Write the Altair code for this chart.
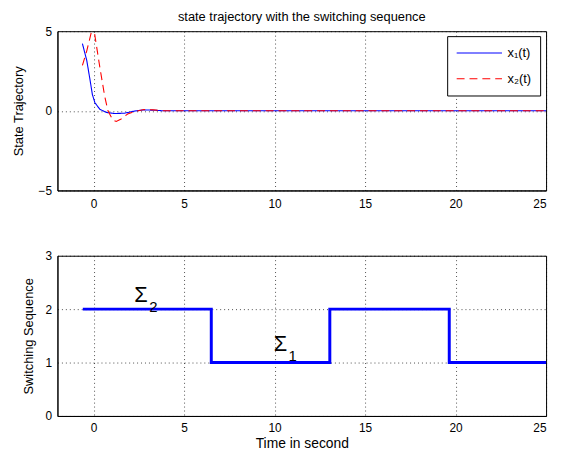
import altair as alt
import pandas as pd

FONT = "Liberation Sans"

# state trajectories
t1 = [-0.62, -0.38, -0.2, -0.07, 0.07, 0.34, 0.7, 1.15, 1.7, 2.24, 2.78, 3.32, 3.87, 5.0, 25.0]
x1 = [4.22, 3.16, 1.94, 1.02, 0.51, 0.1, -0.1, -0.17, -0.15, -0.02, 0.06, 0.04, 0.0, 0.0, 0.0]
t2 = [-0.62, -0.38, -0.2, -0.03, 0.03, 0.34, 0.61, 0.79, 1.06, 1.25, 1.52, 1.88, 2.24, 2.78, 3.32, 3.87, 5.0, 25.0]
x2 = [2.85, 3.77, 4.59, 5.4, 5.0, 2.75, 0.92, 0.0, -0.57, -0.67, -0.51, -0.2, -0.06, 0.08, 0.06, 0.0, 0.0, 0.0]

# switching sequence
sw_t = [-0.6, 6.5, 13.05, 19.65, 25.0]
sw_v = [2, 1, 2, 1, 1]

# annotations
ann_t = [2.25, 9.95]
ann_v = [2.14, 1.22]
ann_lab = ["Σ", "Σ"]
ann_sub = ["2", "1"]

names = ["x₁(t)", "x₂(t)"]
xticks = [0, 5, 10, 15, 20, 25]

df_state = pd.concat([
    pd.DataFrame({"t": t1, "v": x1, "s": names[0]}),
    pd.DataFrame({"t": t2, "v": x2, "s": names[1]}),
])
df_sw = pd.DataFrame({"t": sw_t, "v": sw_v})
df_ann = pd.DataFrame({"t": ann_t, "v": ann_v, "lab": ann_lab, "sub": ann_sub})

W = 494
xscale = alt.Scale(domain=[-2, 25], nice=False, zero=False)
GRID = dict(grid=True, gridDash=[1, 3], gridColor="black", gridOpacity=0.7)

def xaxis(title=None):
    kw = dict(values=xticks, tickSize=0, labelFontSize=12, labelFlush=True, **GRID)
    if title:
        return alt.Axis(title=title, labelPadding=7, titlePadding=3, titleFontSize=14, **kw)
    return alt.Axis(title=None, labelPadding=8, **kw)

def yaxis(title, vals, tp):
    return alt.Axis(values=vals, title=title, tickSize=0, labelPadding=6,
                    labelFontSize=12, titlePadding=tp, format="d", **GRID)

top = alt.Chart(df_state).mark_line(strokeWidth=1.1, clip=True).encode(
    x=alt.X("t:Q", scale=xscale, axis=xaxis()),
    y=alt.Y("v:Q", scale=alt.Scale(domain=[-5, 5], nice=False),
            axis=yaxis("State Trajectory", [-5, 0, 5], 13)),
    color=alt.Color("s:N", scale=alt.Scale(domain=names, range=["#0000ff", "#ff0000"]),
                    legend=alt.Legend(title=None, orient="none", legendX=394, legendY=5,
                                      strokeColor="black", fillColor="white", padding=9,
                                      rowPadding=10, symbolType="stroke", symbolSize=2100,
                                      clipHeight=16, symbolStrokeWidth=1.1, labelFontSize=13,
                                      labelFont=FONT, labelOffset=5, cornerRadius=0)),
    strokeDash=alt.StrokeDash("s:N", scale=alt.Scale(domain=names, range=[[1, 0], [8, 5]]),
                              legend=alt.Legend(title=None)),
).properties(width=W, height=161,
             title=alt.TitleParams("state trajectory with the switching sequence",
                                   fontSize=13, fontWeight="normal", font=FONT, offset=1))

bot_line = alt.Chart(df_sw).mark_line(interpolate="step-after", strokeWidth=3, color="#0000ff").encode(
    x=alt.X("t:Q", scale=xscale, axis=xaxis("Time in second")),
    y=alt.Y("v:Q", scale=alt.Scale(domain=[0, 3], nice=False),
            axis=yaxis("Switching Sequence", [0, 1, 2, 3], 10)),
)
bot_sigma = alt.Chart(df_ann).mark_text(fontSize=22, font=FONT, align="left",
                                        baseline="alphabetic", color="black").encode(
    x="t:Q", y="v:Q", text="lab:N")
bot_sub = alt.Chart(df_ann).mark_text(fontSize=15, font=FONT, align="left",
                                      baseline="alphabetic", color="black", dx=15, dy=10).encode(
    x="t:Q", y="v:Q", text="sub:N")
bot = alt.layer(bot_line, bot_sigma, bot_sub).properties(width=W, height=162)

chart = alt.vconcat(top, bot, spacing=39).configure_view(
    stroke="black", strokeWidth=1
).configure_axis(
    domainColor="black", tickColor="black", labelColor="black", titleColor="black",
    labelFont=FONT, titleFont=FONT, titleFontWeight="normal", titleFontSize=13
).properties(padding={"left": 3, "top": 0, "right": 0, "bottom": 0})

chart.save("out.html", embed_options={"renderer": "svg", "actions": False})
